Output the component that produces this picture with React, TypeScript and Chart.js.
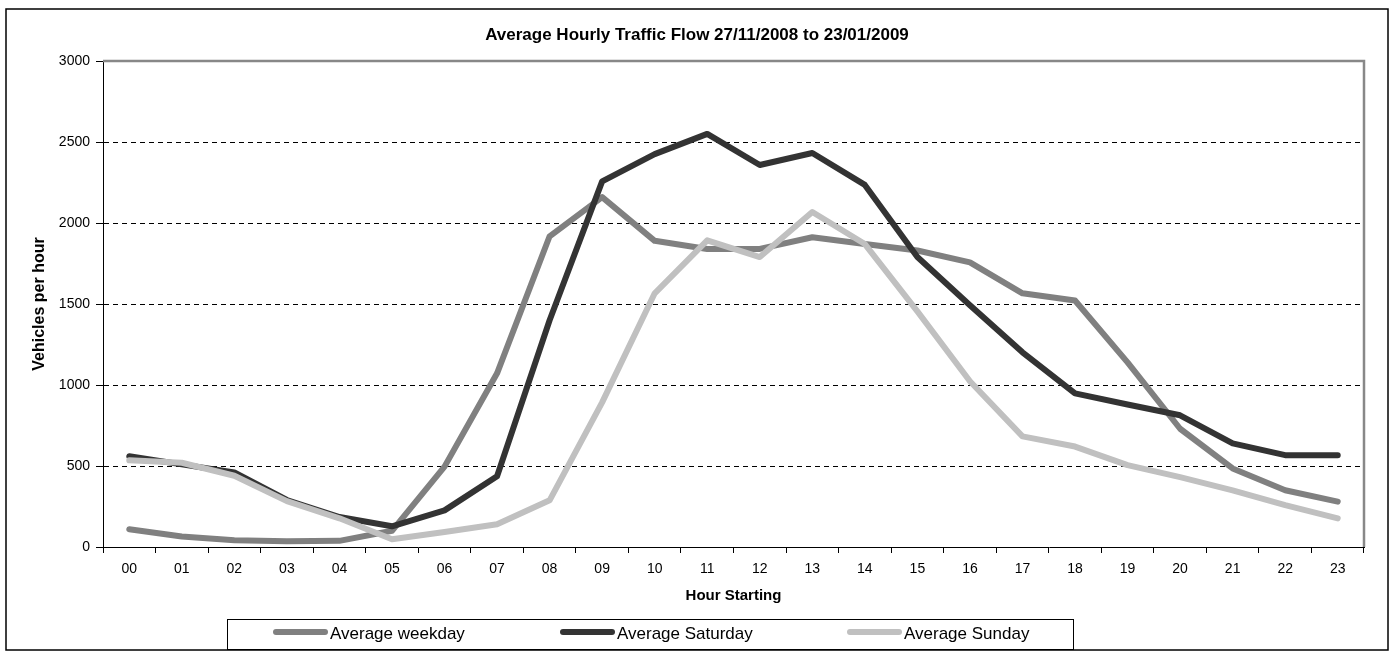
import React, { useEffect, useRef } from "react";
import { Chart, registerables } from "chart.js";

Chart.register(...registerables);

const hours = ["00","01","02","03","04","05","06","07","08","09","10","11","12","13","14","15","16","17","18","19","20","21","22","23"];
const weekday = [110, 65, 42, 35, 38, 100, 496, 1072, 1918, 2160, 1890, 1840, 1840, 1912, 1870, 1830, 1757, 1566, 1522, 1140, 730, 485, 350, 280];
const saturday = [560, 510, 460, 290, 185, 128, 226, 437, 1400, 2257, 2425, 2550, 2358, 2432, 2235, 1790, 1492, 1202, 948, 880, 813, 640, 567, 567];
const sunday = [535, 520, 440, 283, 177, 48, 92, 140, 288, 893, 1566, 1893, 1790, 2068, 1870, 1455, 1023, 683, 620, 505, 431, 350, 258, 177];
const seriesNames = ["Average weekday", "Average Saturday", "Average Sunday"];
const seriesColors = ["#808080", "#333333", "#c0c0c0"];
const chartTitle = "Average Hourly Traffic Flow 27/11/2008 to 23/01/2009";
const xTitle = "Hour Starting";
const yTitle = "Vehicles per hour";
const yMin = 0;
const yMax = 3000;
const yStep = 500;

const FONT = "'Liberation Sans', Arial, sans-serif";

const framePlugin = {
  id: "frame",
  beforeDatasetsDraw(chart: any) {
    const { ctx, chartArea } = chart;
    ctx.save();
    ctx.strokeStyle = "#888888";
    ctx.lineWidth = 2.5;
    ctx.beginPath();
    ctx.moveTo(chartArea.left, chartArea.top);
    ctx.lineTo(chartArea.right, chartArea.top);
    ctx.lineTo(chartArea.right, chartArea.bottom);
    ctx.stroke();
    ctx.restore();
  },
  afterDraw(chart: any) {
    const { ctx } = chart;
    ctx.save();
    // outer border
    ctx.strokeStyle = "#000";
    ctx.lineWidth = 1.5;
    ctx.strokeRect(6, 9, 1382, 641);
    // title
    ctx.fillStyle = "#000";
    ctx.font = `bold 17px ${FONT}`;
    ctx.textAlign = "center";
    ctx.textBaseline = "middle";
    ctx.fillText(chartTitle, 697, 35);
    // legend
    ctx.lineWidth = 1;
    ctx.strokeStyle = "#000";
    ctx.strokeRect(227.5, 619.5, 846, 30);
    ctx.font = `17px ${FONT}`;
    ctx.textAlign = "left";
    ctx.textBaseline = "middle";
    chart.data.datasets.forEach((ds: any) => {
      const idx = seriesNames.indexOf(ds.label);
      const x0 = 273 + 287 * idx;
      ctx.strokeStyle = ds.borderColor;
      ctx.lineWidth = 6;
      ctx.lineCap = "round";
      ctx.beginPath();
      ctx.moveTo(x0 + 3, 632);
      ctx.lineTo(x0 + 52, 632);
      ctx.stroke();
      ctx.fillStyle = "#000";
      ctx.fillText(ds.label, x0 + 57, 634);
    });
    ctx.restore();
  },
};

export default function App() {
  const ref = useRef<HTMLCanvasElement>(null);
  useEffect(() => {
    if (!ref.current) return;
    const seriesValues = [weekday, saturday, sunday];
    const chart = new Chart(ref.current, {
      type: "line",
      data: {
        labels: hours,
        datasets: seriesValues.map((vals, i) => ({
          label: seriesNames[i],
          data: vals,
          borderColor: seriesColors[i],
          backgroundColor: seriesColors[i],
          borderWidth: 6,
          pointRadius: 0,
          tension: 0,
          borderCapStyle: "round",
          borderJoinStyle: "round",
          fill: false,
          order: 2 - i,
        })),
      },
      options: {
        responsive: false,
        animation: false,
        events: [],
        layout: { padding: { top: 61, right: 30, bottom: 0, left: 0 } },
        plugins: {
          legend: { display: false },
          title: { display: false },
          tooltip: { enabled: false },
        },
        scales: {
          x: {
            type: "category",
            offset: true,
            grid: {
              offset: true,
              drawOnChartArea: false,
              drawTicks: true,
              tickLength: 6,
              color: "#000",
              tickColor: "#000",
            },
            border: { color: "#000", width: 1 },
            ticks: {
              color: "#000",
              font: { family: FONT, size: 14 },
              padding: 8,
              maxRotation: 0,
              autoSkip: false,
            },
            title: {
              display: true,
              text: xTitle,
              color: "#000",
              font: { family: FONT, size: 15, weight: "bold" },
              padding: { top: 0, bottom: 47 },
            },
            afterFit: (s: any) => {
              s.height = 105;
            },
          },
          y: {
            min: yMin,
            max: yMax,
            ticks: {
              stepSize: yStep,
              color: "#000",
              font: { family: FONT, size: 14 },
              padding: 6,
              callback: (v: any) => String(v),
            },
            grid: {
              color: (c: any) =>
                c.tick && (c.tick.value === yMin || c.tick.value === yMax) ? "rgba(0,0,0,0)" : "#000",
              tickColor: "#000",
              tickLength: 7,
              lineWidth: 1,
            },
            border: { color: "#000", width: 1, dash: [5, 4] },
            title: {
              display: true,
              text: yTitle,
              color: "#000",
              font: { family: FONT, size: 16, weight: "bold" },
              padding: { top: 30.4, bottom: 0 },
            },
            afterFit: (s: any) => {
              s.width = 103;
            },
          },
        },
      },
      plugins: [framePlugin],
    } as any);
    return () => chart.destroy();
  }, []);
  return (
    <div style={{ position: "fixed", left: 0, top: 0, width: 1394, height: 652, background: "#fff" }}>
      <canvas ref={ref} width={1394} height={652} style={{ display: "block" }} />
    </div>
  );
}
